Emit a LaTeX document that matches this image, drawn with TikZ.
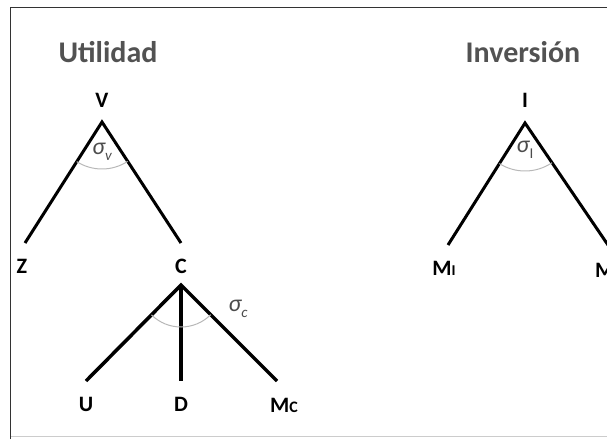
\documentclass[tikz,border=0pt]{standalone}
\usepackage{fontspec}
\setmainfont{Carlito}
\begin{document}
\begin{tikzpicture}[x=1pt,y=-1pt,
  title/.style={font=\fontsize{30}{30}\selectfont\bfseries, text=black!68, inner sep=0pt},
  lab/.style={font=\fontsize{22}{22}\selectfont\bfseries, inner sep=0pt},
  sig/.style={text=black!70, inner sep=0pt, font=\fontsize{24}{24}\selectfont\itshape},
  branch/.style={line width=3pt, line join=miter, line cap=butt},
  branchb/.style={line width=3.5pt, line join=miter, line cap=butt},
  arcsty/.style={draw=black!28, line width=1pt}]
\useasboundingbox (0,0) rectangle (607,439);
% frame
\draw[black!20, line width=0.8pt] (10.5,436) -- (607,436);
\draw[black!80, line width=1.8pt] (10.5,439) -- (10.5,7.5) -- (607,7.5);

% titles
\node[title] (t1) at (108,52) {Utilidad};
\node[title] (t2) at (523,52) {Inversión};

% Utilidad tree
\coordinate (V) at (102,122);
\coordinate (Ze) at (25,243);
\coordinate (Ce) at (181,243);
\node[lab] (lV) at (102,100) {V};
\node[lab] (lZ) at (22,266) {Z};
\node[lab] (lC) at (181,266) {C};
\draw[branch] (Ze) -- (V) -- (Ce);
\draw[arcsty] ([shift={(122.5:47)}]V) arc[start angle=122.5, end angle=56.9, radius=47];
\node[sig] (sV) at (102,152) {σ\raisebox{-0.5ex}{\fontsize{15}{15}\selectfont v}};

% C subtree
\coordinate (C) at (181,285);
\coordinate (Ue) at (86,381);
\coordinate (De) at (181,381);
\coordinate (Me) at (277,381);
\draw[branchb] (Ue) -- (C) -- (Me);
\draw[branchb] (C) -- (De);
\draw[arcsty] ([shift={(134.7:42)}]C) arc[start angle=134.7, end angle=45, radius=42];
\node[sig] (sC) at (238,309) {σ\raisebox{-0.5ex}{\fontsize{15}{15}\selectfont c}};
\node[lab] (lU) at (86,404) {U};
\node[lab] (lD) at (181,404) {D};
\node[lab] (lM) at (284,405) {M{\fontsize{16}{16}\selectfont C}};

% Inversion tree
\coordinate (I) at (525,123);
\coordinate (MIe) at (448,245);
\coordinate (MNe) at (608,245);
\node[lab] (lI) at (525,100) {I};
\draw[branch] (MIe) -- (I) -- (MNe);
\draw[arcsty] ([shift={(122.3:48)}]I) arc[start angle=122.3, end angle=55.8, radius=48];
\node[sig] (sI) at (525,150) {σ\raisebox{-0.5ex}{\fontsize{15}{15}\selectfont\upshape I}};
\node[lab] (lMI) at (444,268) {M{\fontsize{15}{15}\selectfont I}};
\node[lab, anchor=west] (lMN) at (595,270) {M};
\end{tikzpicture}
\end{document}
